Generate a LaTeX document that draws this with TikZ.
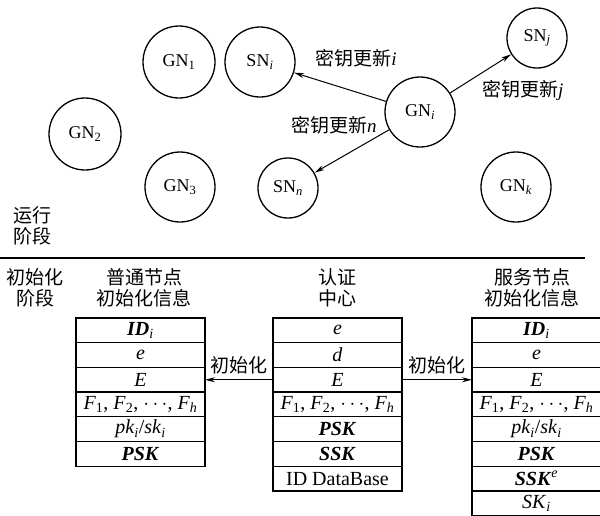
\documentclass[tikz,border=0pt]{standalone}
\usepackage{fontspec}
\setmainfont{Liberation Serif}
\newfontfamily\cjk{Noto Sans CJK SC}
\usetikzlibrary{positioning,arrows.meta}
\newcommand{\vb}[1]{\textbf{\textit{#1}}}
\newcommand{\lat}[1]{{\rmfamily\itshape #1}}

\begin{document}
\begin{tikzpicture}[
      x=1pt, y=-1pt,
      font=\fontsize{19}{22}\selectfont,
      nd/.style={draw, circle, line width=1.3pt, inner sep=0pt,
                 font=\fontsize{18}{20}\selectfont},
      cell/.style={draw, line width=1.3pt, outer sep=0pt, inner sep=0pt,
                   minimum width=129pt, minimum height=24.7pt,
                   font=\fontsize{20}{22}\selectfont},
      head/.style={font=\fontsize{19}{21}\selectfont\cjk, align=center},
      flow/.style={-{Stealth[length=10pt, width=5pt]}, line width=1pt},
      lbl/.style={font=\fontsize{19}{21}\selectfont\cjk, inner sep=1pt}
    ]
    \useasboundingbox (0,0) rectangle (600,515);

    % running stage
    \node[nd, minimum size=72pt] (gn1) at (179,62) {GN\textsubscript{1}};
    \node[nd, minimum size=70pt] (sni) at (260,62) {SN\textsubscript{\textit{i}}};
    \node[nd, minimum size=72pt] (gn2) at (85,134) {GN\textsubscript{2}};
    \node[nd, minimum size=70pt] (gn3) at (180,187) {GN\textsubscript{3}};
    \node[nd, minimum size=60pt] (snn) at (288,188) {SN\textsubscript{\textit{n}}};
    \node[nd, minimum size=70pt] (gni) at (420,112) {GN\textsubscript{\textit{i}}};
    \node[nd, minimum size=60pt] (snj) at (537,38) {SN\textsubscript{\textit{j}}};
    \node[nd, minimum size=70pt] (gnk) at (516,187) {GN\textsubscript{\textit{k}}};

    \draw[flow] (gni) -- node[lbl, above=18pt, xshift=16pt] {密钥更新\lat{i}} (sni);
    \draw[flow] (gni) -- node[lbl, below right=5pt and 0pt] {密钥更新\lat{j}} (snj);
    \draw[flow] (gni) -- node[lbl, above=16pt, xshift=-18pt] {密钥更新\lat{n}} (snn);

    \node[head, align=left] (run) at (32,226) {运行\\阶段};

    \coordinate (sepl) at (0,258);
    \coordinate (sepr) at (585,258);
    \draw[line width=1.3pt] (sepl) -- (sepr);

    % init stage
    \node[head] (init) at (35,288) {初始化\\阶段};

    % ordinary node table
    \node[cell] (ord1) at (140.5,330.35) {\vb{ID}\textsubscript{\textit{i}}};
    \node[cell, below=0pt of ord1] (ord2) {\textit{e}};
    \node[cell, below=0pt of ord2] (ord3) {\textit{E}};
    \node[cell, below=0pt of ord3] (ord4) {\textit{F}\textsubscript{1}, \textit{F}\textsubscript{2}, $\cdots$, \textit{F}\textsubscript{\textit{h}}};
    \node[cell, below=0pt of ord4] (ord5) {\textit{pk}\textsubscript{\textit{i}}/\textit{sk}\textsubscript{\textit{i}}};
    \node[cell, below=0pt of ord5] (ord6) {\vb{PSK}};
    \node[head] (ordhead) at (144,288) {普通节点\\初始化信息};

    % certification centre table
    \node[cell] (ca1) at (337.5,330.35) {\textit{e}};
    \node[cell, below=0pt of ca1] (ca2) {\textit{d}};
    \node[cell, below=0pt of ca2] (ca3) {\textit{E}};
    \node[cell, below=0pt of ca3] (ca4) {\textit{F}\textsubscript{1}, \textit{F}\textsubscript{2}, $\cdots$, \textit{F}\textsubscript{\textit{h}}};
    \node[cell, below=0pt of ca4] (ca5) {\vb{PSK}};
    \node[cell, below=0pt of ca5] (ca6) {\vb{SSK}};
    \node[cell, below=0pt of ca6] (ca7) {ID DataBase};
    \node[head] (cahead) at (337,288) {认证\\中心};

    % service node table
    \node[cell] (srv1) at (536.5,330.35) {\vb{ID}\textsubscript{\textit{i}}};
    \node[cell, below=0pt of srv1] (srv2) {\textit{e}};
    \node[cell, below=0pt of srv2] (srv3) {\textit{E}};
    \node[cell, below=0pt of srv3] (srv4) {\textit{F}\textsubscript{1}, \textit{F}\textsubscript{2}, $\cdots$, \textit{F}\textsubscript{\textit{h}}};
    \node[cell, below=0pt of srv4] (srv5) {\textit{pk}\textsubscript{\textit{i}}/\textit{sk}\textsubscript{\textit{i}}};
    \node[cell, below=0pt of srv5] (srv6) {\vb{PSK}};
    \node[cell, below=0pt of srv6] (srv7) {\vb{SSK}\textsuperscript{\textit{e}}};
    \node[cell, below=0pt of srv7] (srv8) {\textit{SK}\textsubscript{\textit{i}}};
    \node[head] (srvhead) at (532,288) {服务节点\\初始化信息};

    \draw[flow] (ca3.west) -- node[lbl, above=4pt] {初始化} (ord3.east);
    \draw[flow] (ca3.east) -- node[lbl, above=4pt] {初始化} (srv3.west);

  \end{tikzpicture}
\end{document}
